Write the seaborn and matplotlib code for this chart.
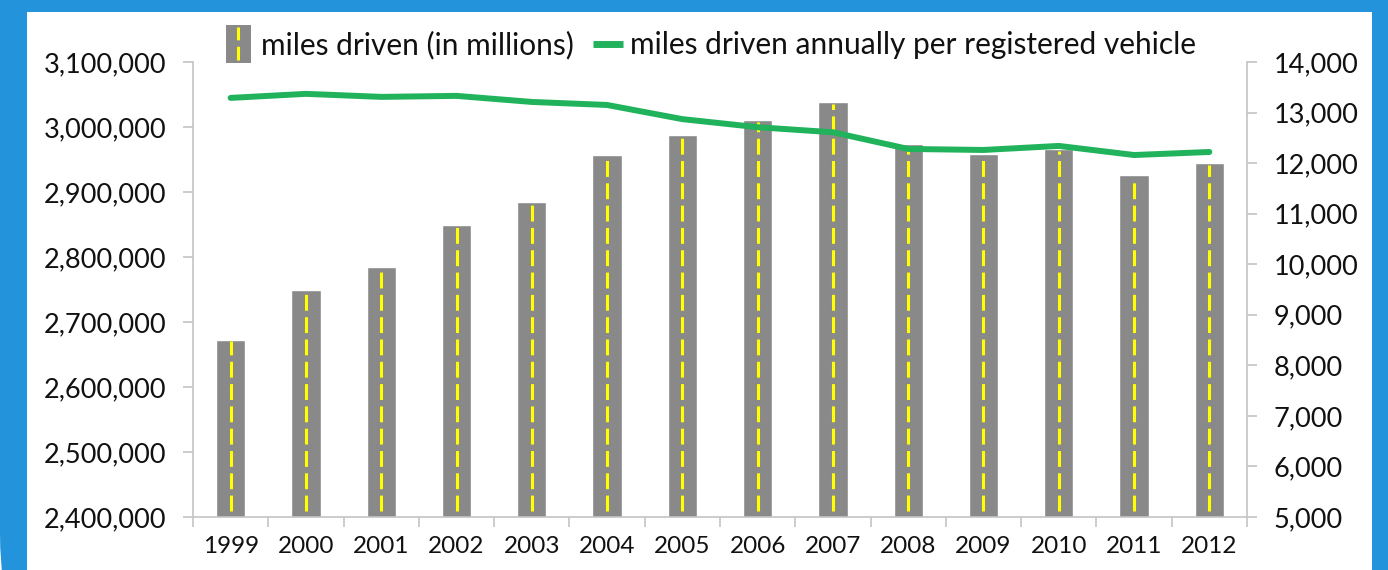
import numpy as np
import pandas as pd
import matplotlib
matplotlib.use("Agg")
import matplotlib.pyplot as plt
import seaborn as sns
from matplotlib.patches import Rectangle, FancyBboxPatch
from matplotlib.lines import Line2D
from matplotlib.ticker import FuncFormatter, MultipleLocator, FixedLocator

years = ["1999", "2000", "2001", "2002", "2003", "2004", "2005",
         "2006", "2007", "2008", "2009", "2010", "2011", "2012"]
miles_driven = [2673000, 2749000, 2785000, 2849000, 2885000, 2957000, 2988000,
                3011000, 3038000, 2974000, 2958000, 2966000, 2926000, 2945000]
miles_per_vehicle = [13290, 13370, 13310, 13330, 13210, 13150, 12870,
                     12710, 12610, 12280, 12260, 12340, 12160, 12220]
bar_label = "miles driven (in millions)"
line_label = "miles driven annually per registered vehicle"

BAR_GRAY = "#898989"
STRIPE = "#FFFF00"
GREEN = "#21B35B"
SPINE = "#C4C4C4"
FRAME_BLUE = "#2393DB"
DASH = (0, (5.2, 2.1))

sns.set_theme(style="white")
plt.rcParams["font.family"] = ["Lato", "DejaVu Sans"]

df = pd.DataFrame({"year": years, "miles": miles_driven, "per_vehicle": miles_per_vehicle})

fig = plt.figure(figsize=(13.88, 5.70), dpi=100, facecolor="white")
# blue frame (rounded lower-left corner) with a white panel inside
fig.patches.append(FancyBboxPatch((0.0, -1.93), 20.0, 10.0,
                                  boxstyle="round,pad=0,rounding_size=2.3",
                                  transform=fig.dpi_scale_trans, facecolor=FRAME_BLUE,
                                  edgecolor="none", zorder=-3))
fig.patches.append(Rectangle((27 / 1388, 0.0), (1372 - 27) / 1388, 1 - 12 / 570,
                             transform=fig.transFigure, facecolor="white",
                             edgecolor="none", zorder=-2))

ax = fig.add_axes([193 / 1388, 53 / 570, (1247 - 193) / 1388, (517 - 62) / 570])
ax.patch.set_alpha(0)

sns.barplot(data=df, x="year", y="miles", color=BAR_GRAY, width=0.39,
            saturation=1, ax=ax, zorder=2)
ymin, ymax = 2400000, 3100000
ax.set_ylim(ymin, ymax)
ax.set_xlim(-0.5, len(years) - 0.5)

# dashed center stripe on each bar, running from the base upward
xs = np.arange(len(years))
span = ymax - ymin
ax.vlines(xs, ymin + span * 0.013, np.array(miles_driven) - span * 0.004,
          colors=STRIPE, linewidth=2.2, linestyles=DASH, zorder=3)

ax2 = ax.twinx()
sns.lineplot(x=xs, y=miles_per_vehicle, color=GREEN, linewidth=4.3, ax=ax2, zorder=4)
ax2.set_ylim(5000, 14000)
ax2.set_xlim(-0.5, len(years) - 0.5)

fmt = FuncFormatter(lambda v, p: f"{int(v):,}")
ax.yaxis.set_major_locator(MultipleLocator(100000))
ax.yaxis.set_major_formatter(fmt)
ax2.yaxis.set_major_locator(MultipleLocator(1000))
ax2.yaxis.set_major_formatter(fmt)

ax.set_xlabel("")
ax.set_ylabel("")
ax2.set_ylabel("")

for a in (ax, ax2):
    for s in a.spines.values():
        s.set_visible(False)
ax.spines["left"].set_visible(True)
ax.spines["bottom"].set_visible(True)
ax2.spines["right"].set_visible(True)
for s in (ax.spines["left"], ax.spines["bottom"], ax2.spines["right"]):
    s.set_color(SPINE)
    s.set_linewidth(1.2)

ax.tick_params(axis="y", which="major", direction="out", length=7, width=1.2,
               color=SPINE, left=True, pad=12, labelsize=19.5, labelcolor="#111111")
ax2.tick_params(axis="y", which="major", direction="out", length=7, width=1.2,
                color=SPINE, right=True, pad=12, labelsize=19.5, labelcolor="#111111")
ax.xaxis.set_minor_locator(FixedLocator(np.arange(-0.5, len(years), 1.0)))
ax.tick_params(axis="x", which="major", length=0, pad=14, labelsize=17.5, labelcolor="#111111")
ax.tick_params(axis="x", which="minor", direction="out", length=7, width=1.2,
               color=SPINE, bottom=True)
ax.grid(False)
ax2.grid(False)


class BarHandle:
    pass


class BarHandler:
    def legend_artist(self, legend, orig_handle, fontsize, handlebox):
        x0, y0 = handlebox.xdescent, handlebox.ydescent
        w, h = handlebox.width, handlebox.height
        bw, bh = 18, 27
        cx = -x0 + w / 2
        cy = -y0 + h / 2
        rect = Rectangle((cx - bw / 2, cy - bh / 2), bw, bh, facecolor=BAR_GRAY,
                         edgecolor="none", transform=handlebox.get_transform())
        stripe = Line2D([cx, cx], [cy - bh / 2 + 2, cy + bh / 2 - 1], color=STRIPE,
                        linewidth=2.2, linestyle=(0, (4.5, 2.1)),
                        transform=handlebox.get_transform())
        handlebox.add_artist(rect)
        handlebox.add_artist(stripe)
        return rect


line_handle = Line2D([], [], color=GREEN, linewidth=5, solid_capstyle="butt")
leg = fig.legend([BarHandle(), line_handle], [bar_label, line_label],
                 handler_map={BarHandle: BarHandler()},
                 loc="center", bbox_to_anchor=(710 / 1388, 1 - 45 / 570),
                 ncol=2, frameon=False, fontsize=21.5, handlelength=1.0,
                 handletextpad=0.25, columnspacing=0.65)
for t in leg.get_texts():
    t.set_color("#111111")

fig.savefig("out.png", dpi=100, facecolor=fig.get_facecolor())
